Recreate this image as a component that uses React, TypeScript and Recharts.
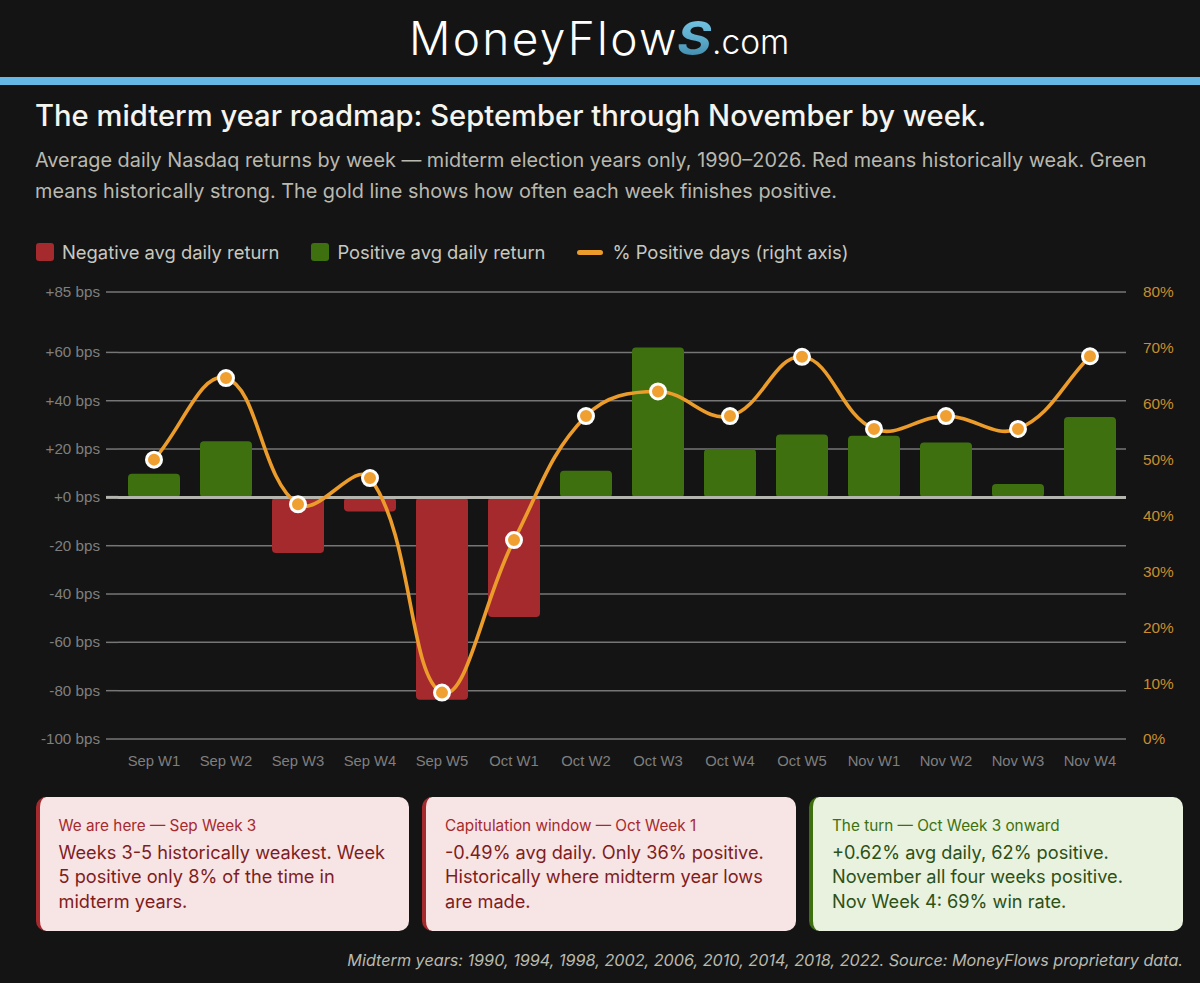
import {
  ComposedChart,
  Bar,
  Line,
  Cell,
  XAxis,
  YAxis,
  CartesianGrid,
  ReferenceLine,
} from "recharts";

const weeks = [
  "Sep W1", "Sep W2", "Sep W3", "Sep W4", "Sep W5",
  "Oct W1", "Oct W2", "Oct W3", "Oct W4", "Oct W5",
  "Nov W1", "Nov W2", "Nov W3", "Nov W4",
];
const avgReturnBps = [9.8, 23.2, -23, -5.8, -83.8, -49.5, 11, 62, 20, 26, 25.5, 22.7, 5.5, 33.3];
const pctPositive = [50, 64.6, 42, 46.7, 8.3, 35.6, 57.8, 62.2, 57.8, 68.4, 55.5, 57.8, 55.5, 68.5];
const leftTicks = [-100, -80, -60, -40, -20, 0, 20, 40, 60, 85];
const rightTicks = [0, 10, 20, 30, 40, 50, 60, 70, 80];

const RED = "#a52a2e";
const GREEN = "#3e7010";
const GOLD = "#ec9c2a";
const BG = "#141414";
const UI_FONT = "Inter, 'Noto Sans', sans-serif";
const AXIS_FONT = "'Liberation Sans', Arial, sans-serif";

const data = weeks.map((week, i) => ({
  week,
  avgReturn: avgReturnBps[i],
  positive: pctPositive[i],
}));

// Same spline as the original chart (tension 0.4): tangents weighted by segment length
function tensionCurve(context: any) {
  let pts: [number, number][] = [];
  return {
    areaStart() {},
    areaEnd() {},
    lineStart() {
      pts = [];
    },
    point(x: number, y: number) {
      pts.push([+x, +y]);
    },
    lineEnd() {
      const t = 0.4;
      const ctrl = pts.map((p, i) => {
        const a = pts[i - 1] ?? p;
        const b = pts[i + 1] ?? p;
        const d1 = Math.hypot(p[0] - a[0], p[1] - a[1]);
        const d2 = Math.hypot(b[0] - p[0], b[1] - p[1]);
        const sum = d1 + d2 || 1;
        return {
          prev: [p[0] - (t * d1 * (b[0] - a[0])) / sum, p[1] - (t * d1 * (b[1] - a[1])) / sum],
          next: [p[0] + (t * d2 * (b[0] - a[0])) / sum, p[1] + (t * d2 * (b[1] - a[1])) / sum],
        };
      });
      pts.forEach((p, i) => {
        if (i === 0) context.moveTo(p[0], p[1]);
        else
          context.bezierCurveTo(
            ctrl[i - 1].next[0],
            ctrl[i - 1].next[1],
            ctrl[i].prev[0],
            ctrl[i].prev[1],
            p[0],
            p[1],
          );
      });
    },
  };
}

const bpsLabel = (v: number) => (v < 0 ? `${v} bps` : `+${v} bps`);

function LeftTick({ x, y, payload }: any) {
  const zero = payload.value === 0;
  return (
    <g>
      <line
        x1={x + 2}
        x2={x + 14}
        y1={y}
        y2={y}
        stroke={zero ? "#b5b5b0" : "#767676"}
        strokeWidth={zero ? 3 : 1.5}
      />
      <text x={x - 4} y={y} dy={5} textAnchor="end" fontSize={15.2} fontFamily={AXIS_FONT} fill="#7f7f7f">
        {bpsLabel(payload.value)}
      </text>
    </g>
  );
}

function LegendItem({ color, label }: { color: string; label: string }) {
  return (
    <div style={{ display: "flex", alignItems: "center", marginRight: 32 }}>
      <div style={{ width: 18, height: 18, borderRadius: 3, background: color, marginRight: 8 }} />
      <span>{label}</span>
    </div>
  );
}

function Callout({
  left,
  accent,
  bg,
  headColor,
  bodyColor,
  head,
  lines,
}: {
  left: number;
  accent: string;
  bg: string;
  headColor: string;
  bodyColor: string;
  head: string;
  lines: string[];
}) {
  return (
    <div
      style={{
        position: "absolute",
        left,
        top: 797,
        width: 373.5,
        height: 134,
        boxSizing: "border-box",
        background: bg,
        borderLeft: `4px solid ${accent}`,
        borderRadius: 10,
        padding: "19px 0 0 19px",
        fontFamily: UI_FONT,
        whiteSpace: "nowrap",
      }}
    >
      <div style={{ color: headColor, fontSize: 15.3, lineHeight: "20px", marginBottom: 4 }}>{head}</div>
      {lines.map((l) => (
        <div key={l} style={{ color: bodyColor, fontSize: 18.2, lineHeight: "24.3px" }}>
          {l}
        </div>
      ))}
    </div>
  );
}

export default function App() {
  return (
    <div
      style={{
        position: "absolute",
        left: 0,
        top: 0,
        width: 1200,
        height: 983,
        overflow: "hidden",
        background: BG,
        fontFamily: UI_FONT,
      }}
    >
      <div
        style={{
          position: "absolute",
          top: 8,
          left: 409,
          color: "#fff",
          fontWeight: 300,
          fontSize: 46,
          letterSpacing: 2.3,
          lineHeight: "60px",
          whiteSpace: "nowrap",
        }}
      >
        MoneyFlow
      </div>
      <div
        style={{
          position: "absolute",
          top: 8,
          left: 677,
          fontWeight: 700,
          fontStyle: "italic",
          fontSize: 46,
          lineHeight: "60px",
          background: "linear-gradient(180deg, #7fd3f0 0%, #5aa8c8 55%, #2f7a9c 100%)",
          WebkitBackgroundClip: "text",
          backgroundClip: "text",
          color: "transparent",
          transform: "scaleX(1.15)",
          transformOrigin: "left center",
        }}
      >
        S
      </div>
      <div
        style={{
          position: "absolute",
          top: 19,
          left: 712,
          color: "#fff",
          fontWeight: 300,
          fontSize: 33.5,
          lineHeight: "46px",
          whiteSpace: "nowrap",
        }}
      >
        .com
      </div>
      <div style={{ position: "absolute", top: 77, left: 0, width: 1200, height: 8, background: "#66b8e4" }} />

      <div
        style={{
          position: "absolute",
          left: 35,
          top: 97,
          color: "#f4f4f0",
          fontSize: 29.2,
          fontWeight: 550,
          lineHeight: "38px",
          whiteSpace: "nowrap",
        }}
      >
        The midterm year roadmap: September through November by week.
      </div>
      <div
        style={{
          position: "absolute",
          left: 35,
          top: 145,
          color: "#b9b9b0",
          fontSize: 19.85,
          lineHeight: "31px",
          whiteSpace: "nowrap",
        }}
      >
        <div>Average daily Nasdaq returns by week — midterm election years only, 1990–2026. Red means historically weak. Green</div>
        <div>means historically strong. The gold line shows how often each week finishes positive.</div>
      </div>

      <div
        style={{
          position: "absolute",
          left: 36,
          top: 238,
          height: 28,
          display: "flex",
          alignItems: "center",
          color: "#c8c8c0",
          fontSize: 18.4,
          whiteSpace: "nowrap",
        }}
      >
        <LegendItem color={RED} label="Negative avg daily return" />
        <LegendItem color={GREEN} label="Positive avg daily return" />
        <div style={{ width: 26, height: 5, borderRadius: 3, background: GOLD, marginRight: 9 }} />
        <span>% Positive days (right axis)</span>
      </div>

      <div style={{ position: "absolute", left: 0, top: 270 }}>
        <ComposedChart
          width={1200}
          height={520}
          data={data}
          margin={{ top: 22, right: 0, left: 0, bottom: 21 }}
          barSize={52}
        >
          <CartesianGrid yAxisId="bps" vertical={false} stroke="#767676" strokeWidth={1.5} />
          <XAxis
            dataKey="week"
            interval={0}
            height={30}
            axisLine={false}
            tickLine={false}
            tickMargin={10}
            tick={{ fontSize: 14.8, fontFamily: AXIS_FONT, fill: "#7f7f7f" }}
          />
          <YAxis
            yAxisId="bps"
            width={118}
            domain={[-100, 85]}
            ticks={leftTicks}
            interval={0}
            axisLine={false}
            tickLine={false}
            tickSize={14}
            tickMargin={0}
            tick={<LeftTick />}
          />
          <YAxis
            yAxisId="pct"
            orientation="right"
            width={74}
            domain={[0, 80]}
            ticks={rightTicks}
            interval={0}
            axisLine={false}
            tickLine={false}
            tickMargin={11}
            tickFormatter={(v) => `${v}%`}
            tick={{ fontSize: 15.4, fontFamily: AXIS_FONT, fill: "#c98d2e", textAnchor: "start" }}
          />
          <Bar yAxisId="bps" dataKey="avgReturn" radius={4} isAnimationActive={false}>
            {data.map((d) => (
              <Cell key={d.week} fill={d.avgReturn < 0 ? RED : GREEN} />
            ))}
          </Bar>
          <ReferenceLine yAxisId="bps" y={0} stroke="#b5b5b0" strokeWidth={3} />
          <Line
            yAxisId="pct"
            dataKey="positive"
            type={tensionCurve as any}
            stroke={GOLD}
            strokeWidth={3.6}
            dot={{ r: 7.5, fill: "#f0a030", stroke: "#ffffff", strokeWidth: 3, fillOpacity: 1 }}
            isAnimationActive={false}
          />
        </ComposedChart>
      </div>

      <Callout
        left={35.5}
        accent={RED}
        bg="#f7e4e5"
        headColor={RED}
        bodyColor="#7f1d1d"
        head="We are here — Sep Week 3"
        lines={["Weeks 3-5 historically weakest. Week", "5 positive only 8% of the time in", "midterm years."]}
      />
      <Callout
        left={422}
        accent={RED}
        bg="#f7e4e5"
        headColor={RED}
        bodyColor="#7f1d1d"
        head="Capitulation window — Oct Week 1"
        lines={["-0.49% avg daily. Only 36% positive.", "Historically where midterm year lows", "are made."]}
      />
      <Callout
        left={809}
        accent={GREEN}
        bg="#e8f2de"
        headColor={GREEN}
        bodyColor="#2d5016"
        head="The turn — Oct Week 3 onward"
        lines={["+0.62% avg daily, 62% positive.", "November all four weeks positive.", "Nov Week 4: 69% win rate."]}
      />

      <div
        style={{
          position: "absolute",
          right: 17,
          top: 948,
          color: "#b9b9b0",
          fontSize: 16.2,
          fontStyle: "italic",
          lineHeight: "24px",
          whiteSpace: "nowrap",
        }}
      >
        Midterm years: 1990, 1994, 1998, 2002, 2006, 2010, 2014, 2018, 2022. Source: MoneyFlows proprietary data.
      </div>
    </div>
  );
}
